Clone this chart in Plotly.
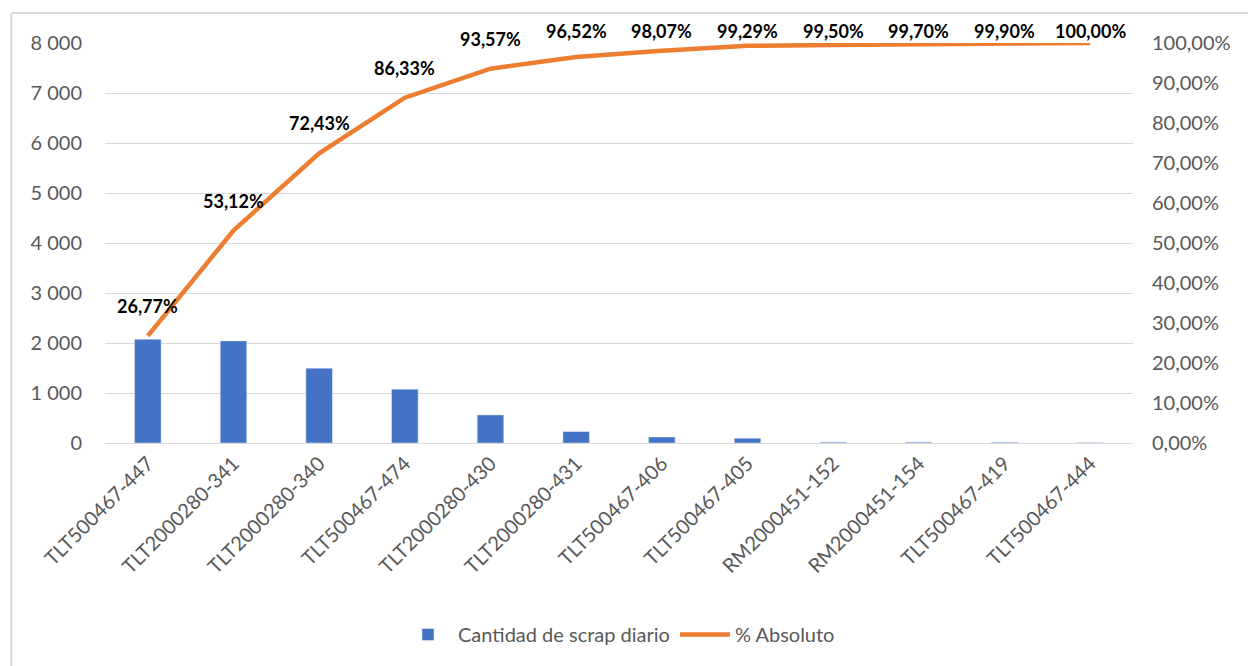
import plotly.graph_objects as go

categories = ["TLT500467-447", "TLT2000280-341", "TLT2000280-340", "TLT500467-474",
              "TLT2000280-430", "TLT2000280-431", "TLT500467-406", "TLT500467-405",
              "RM2000451-152", "RM2000451-154", "TLT500467-419", "TLT500467-444"]
scrap_qty = [2075, 2042, 1497, 1077, 561, 229, 120, 95, 16, 16, 15, 8]
cum_pct = [26.77, 53.12, 72.43, 86.33, 93.57, 96.52, 98.07, 99.29, 99.50, 99.70, 99.90, 100.00]

left_ticks = [0, 1000, 2000, 3000, 4000, 5000, 6000, 7000, 8000]
left_text = ["0", "1 000", "2 000", "3 000", "4 000", "5 000", "6 000", "7 000", "8 000"]
right_ticks = [0, 10, 20, 30, 40, 50, 60, 70, 80, 90, 100]
right_text = [f"{v},00%" for v in right_ticks]
pct_labels = [f"{v:.2f}%".replace(".", ",") for v in cum_pct]

FONT = "Lato"
GREY = "#595959"

fig = go.Figure()
fig.add_trace(go.Bar(x=categories, y=scrap_qty, name="Cantidad de scrap diario",
                     marker=dict(color="#4472C4"), yaxis="y"))
fig.add_trace(go.Scatter(x=categories, y=cum_pct, name="% Absoluto", mode="lines",
                         line=dict(color="#ED7D31", width=4.5), yaxis="y2"))

annotations = []
for c, v, t in zip(categories, cum_pct, pct_labels):
    shift = min(30, 412 - 4 * v)
    annotations.append(dict(x=c, y=v, xref="x", yref="y2", text=t, showarrow=False,
                            yshift=shift, font=dict(family=FONT, size=18, color="#000000",
                                                    weight="bold")))

fig.update_layout(
    width=1248, height=666,
    margin=dict(l=105, r=115, t=43, b=223),
    paper_bgcolor="white", plot_bgcolor="white",
    bargap=0.69,
    font=dict(family=FONT, size=20, color=GREY),
    xaxis=dict(tickangle=-45, showgrid=False, showline=True, linecolor="#D9D9D9", linewidth=1,
               ticks="", tickfont=dict(size=20, color=GREY)),
    yaxis=dict(range=[0, 8000], tickvals=left_ticks, ticktext=left_text, showgrid=True,
               gridcolor="#D9D9D9", gridwidth=1, zeroline=False, ticks="", ticklen=0,
               tickfont=dict(size=20, color=GREY), ticklabelstandoff=22),
    yaxis2=dict(range=[0, 100], tickvals=right_ticks, ticktext=right_text, overlaying="y",
                side="right", showgrid=False, zeroline=False,
                tickfont=dict(size=20, color=GREY), ticklabelstandoff=18),
    legend=dict(orientation="h", x=0.5, xanchor="center", y=-0.43, yanchor="top",
                itemwidth=50, font=dict(size=20, color=GREY)),
    annotations=annotations,
    shapes=[
        dict(type="line", xref="paper", yref="paper", x0=-0.091, x1=1.2, y0=1.075, y1=1.075,
             line=dict(color="#D9D9D9", width=2)),
        dict(type="line", xref="paper", yref="paper", x0=-0.091, x1=-0.091, y0=1.075, y1=-0.7,
             line=dict(color="#D9D9D9", width=2)),
    ],
)
fig.write_html("out.html")
